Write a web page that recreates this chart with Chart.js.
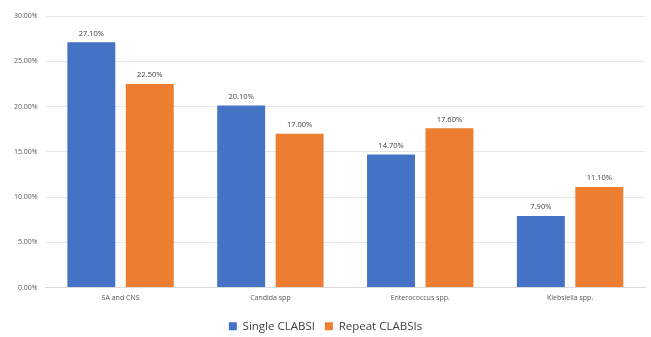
<!DOCTYPE html>
<html>
<head>
<meta charset="utf-8">
<script src="https://cdn.jsdelivr.net/npm/chart.js@4.4.0/dist/chart.umd.min.js"></script>
<style>
  html, body { margin: 0; padding: 0; background: #fff; }
  #wrap { width: 651px; height: 337px; position: relative; }
</style>
</head>
<body>
<div id="wrap"><canvas id="chart"></canvas></div>
<script>
const categories = ['SA and CNS', 'Candida spp', 'Enterococcus spp.', 'Klebsiella spp.'];
const singleClabsi = [27.1, 20.1, 14.7, 7.9];
const repeatClabsi = [22.5, 17.0, 17.6, 11.1];

// draws the value above each bar
const valueLabels = {
  id: 'valueLabels',
  afterDatasetsDraw(chart) {
    const ctx = chart.ctx;
    ctx.save();
    ctx.font = '7.5px "Open Sans", sans-serif';
    ctx.fillStyle = '#404040';
    ctx.textAlign = 'center';
    ctx.textBaseline = 'bottom';
    chart.data.datasets.forEach((ds, i) => {
      chart.getDatasetMeta(i).data.forEach((bar, j) => {
        ctx.fillText(ds.data[j].toFixed(2) + '%', bar.x, bar.y - 5);
      });
    });
    ctx.restore();
  }
};

new Chart(document.getElementById('chart'), {
  type: 'bar',
  data: {
    labels: categories,
    datasets: [
      { label: 'Single CLABSI', data: singleClabsi, backgroundColor: '#4472C4',
        categoryPercentage: 0.78, barPercentage: 0.82 },
      { label: 'Repeat CLABSIs', data: repeatClabsi, backgroundColor: '#ED7D31',
        categoryPercentage: 0.78, barPercentage: 0.82 }
    ]
  },
  options: {
    responsive: true,
    maintainAspectRatio: false,
    animation: false,
    layout: { padding: { top: 16, right: 6, left: 6, bottom: -5 } },
    plugins: {
      legend: {
        position: 'bottom',
        labels: {
          boxWidth: 8, boxHeight: 8, padding: 10,
          color: '#404040',
          font: { size: 11.5, family: '"Open Sans", sans-serif' }
        }
      },
      tooltip: { enabled: false }
    },
    scales: {
      x: {
        grid: { display: false, drawTicks: false },
        border: { color: '#d9d9d9' },
        afterFit(scale) { scale.height = 23; },
        ticks: { color: '#595959', font: { size: 7, family: '"Open Sans", sans-serif' }, padding: 6 }
      },
      y: {
        min: 0, max: 30,
        border: { display: false },
        grid: { color: '#e6e6e6', drawTicks: false },
        ticks: {
          stepSize: 5, padding: 8,
          color: '#595959',
          font: { size: 7, family: '"Open Sans", sans-serif' },
          callback: v => v.toFixed(2) + '%'
        }
      }
    }
  },
  plugins: [valueLabels]
});
</script>
</body>
</html>
